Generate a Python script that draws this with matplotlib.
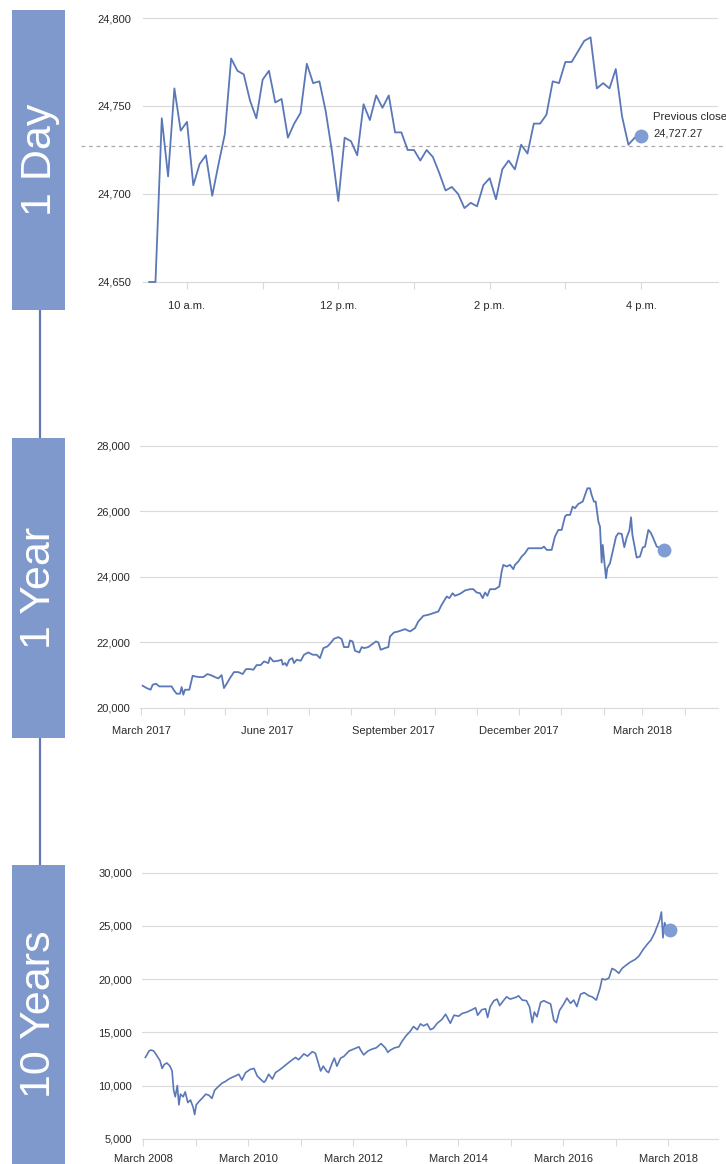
import matplotlib
matplotlib.use("Agg")
import matplotlib.pyplot as plt
import numpy as np
import pandas as pd
from matplotlib.patches import Rectangle
from matplotlib.ticker import FixedLocator, FuncFormatter

plt.rcParams['font.family'] = ['Liberation Sans', 'DejaVu Sans']

# ---------------- DATA ----------------
# 1 Day: 5-minute readings from 9:30 a.m. to 4:00 p.m.
day_values = [24650, 24650, 24743, 24710, 24760, 24736, 24741, 24705, 24717, 24722,
              24699, 24717, 24734, 24777, 24770, 24768, 24753, 24743, 24765, 24770,
              24752, 24754, 24732, 24740, 24746, 24774, 24763, 24764, 24747, 24724,
              24696, 24732, 24730, 24722, 24751, 24742, 24756, 24749, 24756, 24735,
              24735, 24725, 24725, 24719, 24725, 24721, 24712, 24702, 24704, 24700,
              24692, 24695, 24693, 24705, 24709, 24697, 24714, 24719, 24714, 24728,
              24723, 24740, 24740, 24745, 24764, 24763, 24775, 24775, 24781, 24787,
              24789, 24760, 24763, 24760, 24771, 24744, 24728, 24732, 24733]
day_start = "2018-03-21 09:30"
day_step_min = 5
previous_close = 24727.27
day_ticks = ["10:00", "12:00", "14:00", "16:00"]
day_tick_labels = ["10 a.m.", "12 p.m.", "2 p.m.", "4 p.m."]
day_yticks = [24650, 24700, 24750, 24800]

# 1 Year: days since 1 March 2017
year_days = [1.2, 4.1, 7.0, 8.5, 10.9, 13.3, 16.3, 19.2, 22.3, 24.0,
             26.0, 28.4, 29.6, 30.8, 32.0, 35.2, 37.6, 39.3, 42.5, 45.4,
             48.3, 50.7, 53.9, 56.3, 58.7, 60.4, 62.4, 64.8, 67.7, 70.9,
             74.0, 76.5, 79.4, 81.8, 84.2, 87.1, 89.6, 92.7, 93.9, 96.4,
             100.0, 102.4, 103.2, 104.9, 106.1, 108.0, 110.2, 111.4, 113.3, 116.3,
             118.7, 121.8, 125.0, 127.9, 130.3, 132.8, 135.7, 137.6, 140.5, 143.7,
             146.1, 147.8, 151.0, 152.2, 154.1, 155.8, 159.0, 160.7, 162.4, 165.5,
             168.7, 171.1, 172.8, 174.5, 177.7, 180.1, 181.3, 184.2, 187.4,
             192.2, 195.9, 199.5, 201.9, 205.6, 209.2, 212.9, 216.5, 218.9, 222.6,
             224.5, 226.9, 228.6, 232.3, 235.9, 239.6, 242.0, 244.4, 246.8, 248.8,
             250.5, 252.2, 254.1, 257.8, 260.9, 262.6, 263.8, 266.2, 268.7, 271.1,
             272.3, 274.7, 277.2, 279.6, 282.0, 284.5, 288.1, 291.7, 293.4, 295.4,
             299.0, 301.4, 303.9, 306.3, 308.7, 309.9, 312.4, 314.3, 316.0, 318.4,
             321.6, 323.3, 325.0, 326.9, 328.1, 329.8, 331.1, 333.0, 334.2, 335.4,
             336.2, 337.1, 338.6, 339.5, 341.5, 343.4, 345.9, 347.6, 350.0, 351.9,
             353.6, 355.6, 356.8, 357.8, 359.2, 360.9, 363.3, 365.3, 367.0, 369.4,
             371.1, 373.0, 375.5, 378.4, 380.8]
year_values = [20672, 20600, 20550, 20702, 20733, 20651, 20651, 20651, 20651, 20530,
               20427, 20427, 20631, 20397, 20550, 20550, 20977, 20957, 20936, 20936,
               21028, 20997, 20936, 20896, 20997, 20600, 20733, 20906, 21089, 21089,
               21028, 21181, 21181, 21160, 21303, 21303, 21415, 21364, 21537, 21415,
               21435, 21466, 21313, 21364, 21282, 21466, 21516, 21364, 21466, 21435,
               21619, 21690, 21619, 21619, 21516, 21822, 21873, 21954, 22107, 22158,
               22097, 21853, 21853, 22056, 22025, 21740, 21690, 21853, 21822, 21853,
               21954, 22025, 21995, 21771, 21822, 21853, 22178, 22300, 22331,
               22402, 22331, 22433, 22636, 22809, 22840, 22891, 22942, 23145, 23400,
               23349, 23501, 23420, 23481, 23583, 23623, 23623, 23522, 23501, 23349,
               23522, 23420, 23623, 23623, 23705, 24163, 24366, 24316, 24366, 24234,
               24366, 24468, 24621, 24723, 24875, 24875, 24875, 24875, 24926, 24824,
               24824, 25232, 25435, 25435, 25842, 25893, 25893, 26148, 26097, 26229,
               26300, 26504, 26707, 26707, 26504, 26300, 26300, 25690, 25537, 24438,
               24977, 24570, 23959, 24265, 24418, 24774, 25232, 25333, 25313, 24906,
               25201, 25415, 25822, 25283, 24977, 24590, 24621, 24896, 24926, 25435,
               25354, 25181, 24926, 24875, 24824]
year_start = "2017-03-01"
year_label_months = ["2017-03-01", "2017-06-01", "2017-09-01", "2017-12-01", "2018-03-01"]
year_tick_labels = ["March 2017", "June 2017", "September 2017", "December 2017", "March 2018"]
year_yticks = [20000, 22000, 24000, 26000, 28000]

# 10 Years: decimal years
decade_years = [2008.20, 2008.23, 2008.27, 2008.31, 2008.36, 2008.41, 2008.48, 2008.52, 2008.56, 2008.61,
                2008.67, 2008.71, 2008.74, 2008.77, 2008.81, 2008.84, 2008.87, 2008.92, 2008.96, 2009.01,
                2009.06, 2009.11, 2009.14, 2009.17, 2009.22, 2009.28, 2009.35, 2009.41, 2009.47, 2009.52,
                2009.58, 2009.66, 2009.73, 2009.79, 2009.85, 2009.92, 2009.98, 2010.04, 2010.11, 2010.20,
                2010.27, 2010.33, 2010.39, 2010.46, 2010.49, 2010.55, 2010.62, 2010.68, 2010.77, 2010.87,
                2010.96, 2011.06, 2011.12, 2011.22, 2011.29, 2011.38, 2011.44, 2011.49, 2011.54, 2011.59,
                2011.65, 2011.69, 2011.76, 2011.80, 2011.85, 2011.92, 2011.98, 2012.08, 2012.17, 2012.27,
                2012.30, 2012.36, 2012.44, 2012.52, 2012.60, 2012.69, 2012.77, 2012.82, 2012.87, 2012.95,
                2013.03, 2013.09, 2013.17, 2013.24,
                2013.31, 2013.38, 2013.44, 2013.50, 2013.57, 2013.63, 2013.69, 2013.76, 2013.85, 2013.92,
                2014.01, 2014.08, 2014.17, 2014.23, 2014.33, 2014.42, 2014.49, 2014.53, 2014.61, 2014.68,
                2014.72, 2014.77, 2014.84, 2014.90, 2014.95, 2015.03, 2015.08, 2015.15, 2015.25, 2015.31,
                2015.38, 2015.46, 2015.52, 2015.57, 2015.61, 2015.66, 2015.73, 2015.79, 2015.85, 2015.92,
                2015.98, 2016.03, 2016.09, 2016.17, 2016.23, 2016.30, 2016.36, 2016.42, 2016.49, 2016.56,
                2016.65, 2016.71, 2016.79, 2016.86, 2016.90, 2016.96, 2017.03, 2017.09, 2017.15, 2017.22,
                2017.28, 2017.34, 2017.44, 2017.53, 2017.60, 2017.68, 2017.76, 2017.83, 2017.90, 2017.96,
                2018.00, 2018.03, 2018.06, 2018.09, 2018.14, 2018.19]
decade_values = [12638, 12880, 13244, 13335, 13244, 12880, 12333, 11606, 11970, 12121,
                 11818, 11364, 9546, 8940, 10000, 8184, 9182, 8940, 9395, 8396,
                 8638, 7970, 7273, 8184, 8485, 8788, 9182, 9091, 8788, 9546,
                 9850, 10212, 10394, 10606, 10758, 10909, 11061, 10515, 11212, 11515,
                 11606, 10909, 10606, 10303, 10455, 11061, 10606, 11212, 11515, 11909,
                 12273, 12636, 12424, 12970, 12758, 13182, 13030, 12212, 11364, 11818,
                 11364, 11212, 12121, 12576, 11818, 12576, 12727, 13242, 13424, 13636,
                 13333, 12880, 13242, 13424, 13545, 13939, 13545, 13121, 13333, 13545,
                 13636, 14152, 14697, 15061,
                 15545, 15242, 15788, 15606, 15788, 15242, 15394, 15848, 16212, 16697,
                 15848, 16606, 16515, 16758, 16909, 17121, 17303, 16606, 17121, 17212,
                 16394, 17424, 17970, 18121, 17515, 18030, 18333, 18121, 18273, 18424,
                 18030, 17970, 17364, 15909, 16909, 16455, 17818, 17970, 17818, 17667,
                 16152, 15909, 17061, 17667, 18212, 17727, 18030, 17424, 18576, 18727,
                 18424, 18333, 18030, 19121, 20030, 19939, 20091, 21000, 20848, 20545,
                 21000, 21242, 21606, 21848, 22152, 22758, 23273, 23667, 24333, 25091,
                 25606, 26303, 23879, 25303, 24788, 24636]
decade_label_years = [2008, 2010, 2012, 2014, 2016, 2018]
decade_tick_labels = ["March 2008", "March 2010", "March 2012", "March 2014", "March 2016", "March 2018"]
decade_yticks = [5000, 10000, 15000, 20000, 25000, 30000]

panel_titles = ["1 Day", "1 Year", "10 Years"]

# ---------------- STYLE / LAYOUT ----------------
W, H = 726, 1164
LINE = '#5a78b8'
DOT = '#7f9dd4'
BAND = '#8099cc'
CONNECT = '#6379b2'
GRID = '#dadada'
TXT = '#2a2a2a'

fig = plt.figure(figsize=(W / 100, H / 100), dpi=100)


def px_axes(left, top, right, bottom, z=1):
    return fig.add_axes([left / W, 1 - bottom / H, (right - left) / W, (bottom - top) / H], zorder=z)


def lin(p0, v0, p1, v1, p):
    return v0 + (p - p0) * (v1 - v0) / (p1 - p0)


# background layer in pixel coordinates for bands / connectors
bg = px_axes(0, 0, W, H, z=0)
bg.set_xlim(0, W)
bg.set_ylim(H, 0)
bg.axis('off')
band_boxes = [(12, 10, 65, 310), (12, 438, 65, 738), (12, 865, 65, 1170)]
for (l, t, r, b), title in zip(band_boxes, panel_titles):
    bg.add_patch(Rectangle((l, t), r - l, b - t, color=BAND, lw=0))
    bg.text((l + r) / 2 + 1, (t + min(b, H)) / 2, title, rotation=90, ha='center', va='center',
            color='white', fontsize=31, family=['Liberation Sans', 'DejaVu Sans'])
bg.plot([39.5, 39.5], [310, 438], color=CONNECT, lw=1.6, solid_capstyle='butt')
bg.plot([39.5, 39.5], [738, 865], color=CONNECT, lw=1.6, solid_capstyle='butt')


def style(ax, yticks, ypad, xpad):
    for s in ['top', 'right', 'left']:
        ax.spines[s].set_visible(False)
    ax.spines['bottom'].set_color(GRID)
    ax.spines['bottom'].set_linewidth(0.8)
    ax.set_facecolor('none')
    ax.yaxis.set_major_locator(FixedLocator(yticks))
    ax.yaxis.set_major_formatter(FuncFormatter(lambda v, p: f"{v:,.0f}"))
    ax.grid(axis='y', color=GRID, lw=0.8)
    ax.tick_params(axis='y', length=0, pad=ypad, labelsize=8, labelcolor=TXT)
    ax.tick_params(axis='x', which='both', length=5, color=GRID, width=0.8, pad=xpad,
                   labelsize=8, labelcolor=TXT)


# ---- 1 Day ----
ax1 = px_axes(143, 12, 718, 282)
t0 = pd.Timestamp(day_start)
day_hours = np.array([(t0 + pd.Timedelta(minutes=day_step_min * i)).hour +
                      (t0 + pd.Timedelta(minutes=day_step_min * i)).minute / 60
                      for i in range(len(day_values))])
ax1.plot(day_hours, day_values, color=LINE, lw=1.3, clip_on=False, zorder=3)
ax1.plot(day_hours[-1], day_values[-1], 'o', color=DOT, ms=10, mec='none', zorder=4, clip_on=False)
ax1.set_xlim(lin(187, 10, 641, 16, 143), lin(187, 10, 641, 16, 718))
ax1.set_ylim(lin(18, 24800, 282, 24650, 282), lin(18, 24800, 282, 24650, 12))
tick_hours = [int(s.split(':')[0]) for s in day_ticks]
ax1.set_xticks(tick_hours)
ax1.set_xticklabels(day_tick_labels)
ax1.xaxis.set_minor_locator(FixedLocator(list(range(10, 17))))
style(ax1, day_yticks, 8.5, 8.5)
ax1.axhline(previous_close, xmin=(81 - 143) / 575, xmax=(726 - 143) / 575, color='#aaaaaa',
            lw=0.9, ls=(0, (3, 3)), clip_on=False, zorder=2)
ax1.annotate("Previous close", xy=(day_hours[-1], day_values[-1]), xytext=(8.6, 13.5),
             textcoords='offset points', ha='left', va='center', fontsize=8.2, color=TXT,
             annotation_clip=False)
ax1.annotate(f"{previous_close:,.2f}", xy=(day_hours[-1], day_values[-1]), xytext=(8.6, 1.5),
             textcoords='offset points', ha='left', va='center', fontsize=8, color=TXT,
             annotation_clip=False)

# ---- 1 Year ----
ax2 = px_axes(140, 440, 718, 707.7)
ys = pd.Timestamp(year_start)
ax2.plot(year_days, year_values, color=LINE, lw=1.3, clip_on=False, zorder=3)
ax2.plot(year_days[-1], year_values[-1], 'o', color=DOT, ms=10, mec='none', zorder=4, clip_on=False)
ax2.set_xlim(lin(141, 0, 642.3, 365, 140), lin(141, 0, 642.3, 365, 718))
ax2.set_ylim(20000, lin(446, 28000, 707.7, 20000, 440))
label_days = [(pd.Timestamp(m) - ys).days for m in year_label_months]
ax2.set_xticks(label_days)
ax2.set_xticklabels(year_tick_labels)
month_days = [(m - ys).days for m in pd.date_range(year_start, periods=14, freq='MS')]
ax2.xaxis.set_minor_locator(FixedLocator(month_days))
style(ax2, year_yticks, 7, 8)

# ---- 10 Years ----
ax3 = px_axes(142, 866, 718, 1138.7)
ax3.plot(decade_years, decade_values, color=LINE, lw=1.2, clip_on=False, zorder=3)
ax3.plot(decade_years[-1], decade_values[-1], 'o', color=DOT, ms=10, mec='none', zorder=4, clip_on=False)
march = 59 / 365
ax3.set_xlim(lin(143.3, 2008 + march, 668.3, 2018 + march, 142),
             lin(143.3, 2008 + march, 668.3, 2018 + march, 718))
ax3.set_ylim(5000, lin(872.7, 30000, 1138.7, 5000, 866))
ax3.set_xticks([y + march for y in decade_label_years])
ax3.set_xticklabels(decade_tick_labels)
ax3.xaxis.set_minor_locator(FixedLocator([y + march for y in range(2008, 2020)]))
style(ax3, decade_yticks, 7, 6)

fig.savefig("out.png", dpi=100)
